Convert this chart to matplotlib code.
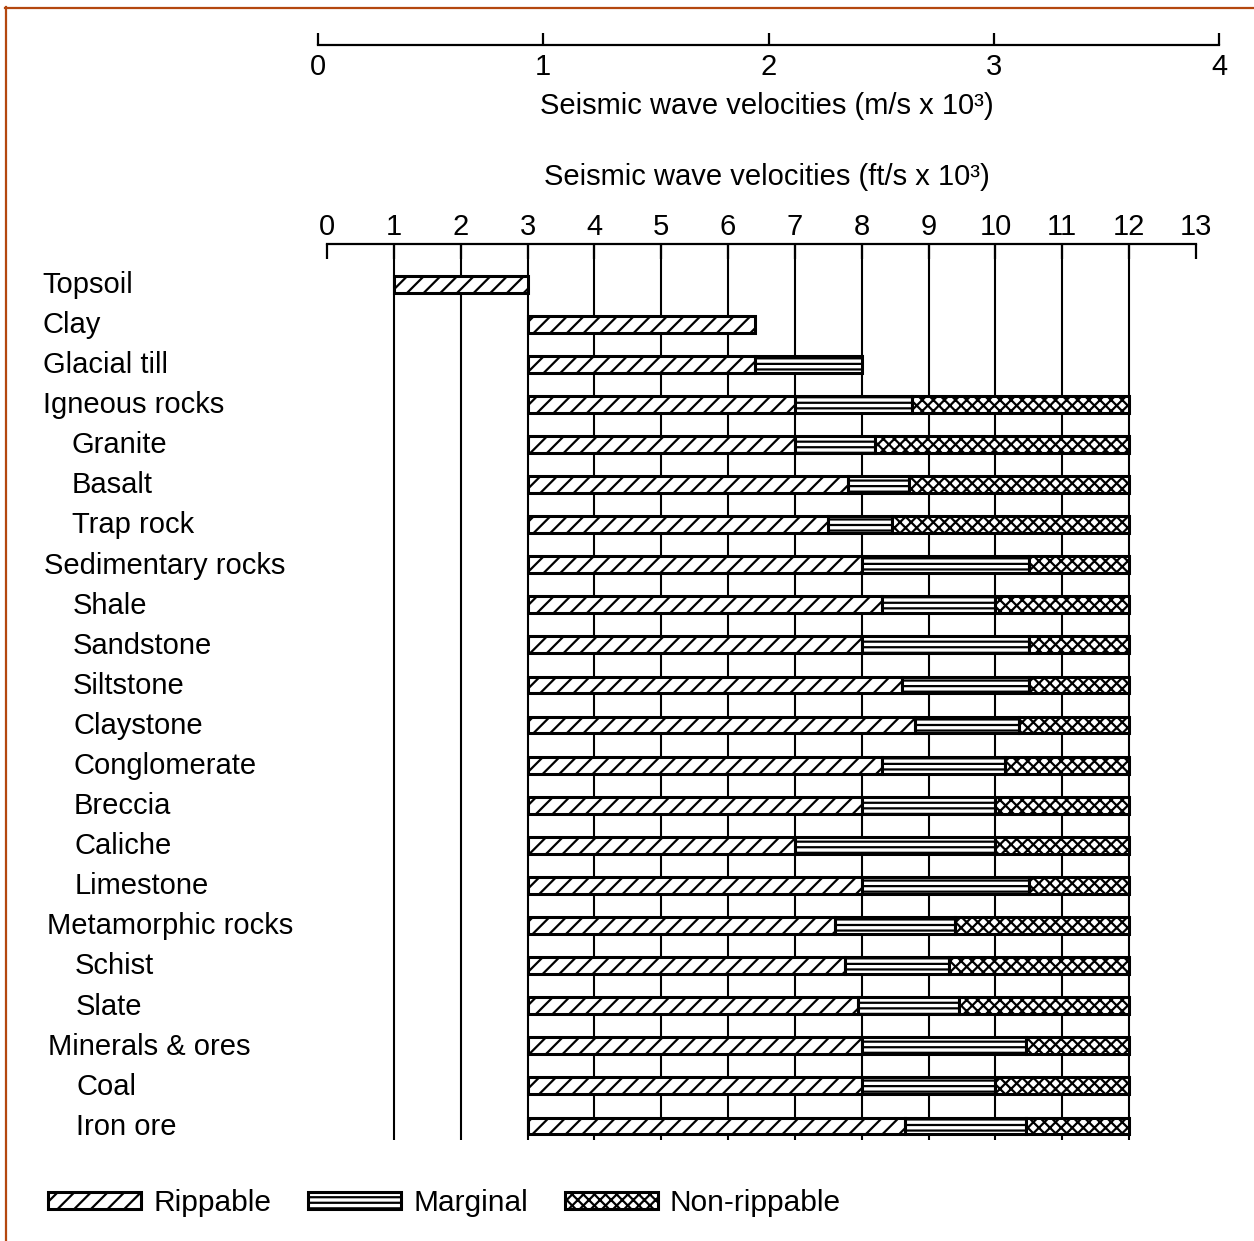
import numpy as np
import matplotlib
matplotlib.use("Agg")
import matplotlib.pyplot as plt
import matplotlib.transforms as mtransforms
from matplotlib.patches import Patch
from matplotlib.lines import Line2D

# ---------------- data ----------------
categories = ["Topsoil", "Clay", "Glacial till", "Igneous rocks", "Granite", "Basalt",
              "Trap rock", "Sedimentary rocks", "Shale", "Sandstone", "Siltstone",
              "Claystone", "Conglomerate", "Breccia", "Caliche", "Limestone",
              "Metamorphic rocks", "Schist", "Slate", "Minerals & ores", "Coal", "Iron ore"]
indent_level = [0, 0, 0, 0, 1, 1, 1, 0, 1, 1, 1, 1, 1, 1, 1, 1, 0, 1, 1, 0, 1, 1]

# velocities in ft/s x 1000
rippable_start = [1, 3, 3, 3, 3, 3, 3, 3, 3, 3, 3, 3, 3, 3, 3, 3, 3, 3, 3, 3, 3, 3]
rippable_end = [3, 6.4, 6.4, 7, 7, 7.8, 7.5, 8, 8.3, 8, 8.6, 8.8, 8.3, 8, 7, 8,
                7.6, 7.75, 7.95, 8, 8, 8.65]
marginal_end = [None, None, 8, 8.75, 8.2, 8.7, 8.45, 10.5, 10, 10.5, 10.5, 10.35,
                10.15, 10, 10, 10.5, 9.4, 9.3, 9.45, 10.45, 10, 10.45]
nonrippable_end = [None, None, None, 12, 12, 12, 12, 12, 12, 12, 12, 12, 12, 12,
                   12, 12, 12, 12, 12, 12, 12, 12]

ft_ticks = [0, 1, 2, 3, 4, 5, 6, 7, 8, 9, 10, 11, 12, 13]
ms_ticks = [0, 1, 2, 3, 4]
legend_labels = ["Rippable", "Marginal", "Non-rippable"]
hatches = ["//", "---", "xxx"]

# ---------------- style ----------------
plt.rcParams["font.family"] = ["Liberation Sans", "DejaVu Sans"]
plt.rcParams["hatch.linewidth"] = 1.6
plt.rcParams["hatch.color"] = "black"
FS = 21
W, H = 1254, 1241

fig = plt.figure(figsize=(W / 100, H / 100), dpi=100)
fig.patch.set_facecolor("white")

# main axes: x = ft/s x1000, y = row index
ax = fig.add_axes([327 / W, 1 - 1142 / H, (1196 - 327) / W, (1142 - 244) / H])
ax.set_xlim(0, 13)
ax.set_ylim(21.4, -1)
for s in ["left", "right", "bottom"]:
    ax.spines[s].set_visible(False)
ax.spines["top"].set_linewidth(1.6)
ax.xaxis.tick_top()
ax.set_xticks(ft_ticks)
ax.set_xticklabels([str(t) for t in ft_ticks])
ax.tick_params(axis="x", direction="in", length=11, width=1.6, pad=2, labelsize=FS)
ax.set_yticks([])
ax.patch.set_alpha(0)

# vertical grid lines
ax.vlines(ft_ticks[1:13], -1, 21.35, color="black", lw=1.5, zorder=1)

rows = np.arange(len(categories))
bar_h = 0.42
common = dict(height=bar_h, facecolor="white", edgecolor="black", linewidth=2.2, zorder=3)
for i in rows:
    ax.barh(i, rippable_end[i] - rippable_start[i], left=rippable_start[i],
            hatch=hatches[0], **common)
    if marginal_end[i] is not None:
        ax.barh(i, marginal_end[i] - rippable_end[i], left=rippable_end[i],
                hatch=hatches[1], **common)
    if nonrippable_end[i] is not None:
        ax.barh(i, nonrippable_end[i] - marginal_end[i], left=marginal_end[i],
                hatch=hatches[2], **common)

# category labels (slight rightward drift down the column, as in the scan)
trans = mtransforms.blended_transform_factory(fig.transFigure, ax.transData)
for i, (name, lev) in enumerate(zip(categories, indent_level)):
    ax.text((42 + 28 * lev + 0.3 * i) / W, i + 0.22, name, transform=trans, ha="left",
            va="baseline", fontsize=FS, clip_on=False)

# m/s axis
ax2 = fig.add_axes([318 / W, 1 - 45 / H, (1219 - 318) / W, 0.0001])
ax2.set_xlim(0, 4)
for s in ["left", "right", "top"]:
    ax2.spines[s].set_visible(False)
ax2.spines["bottom"].set_linewidth(1.6)
ax2.set_yticks([])
ax2.set_xticks(ms_ticks)
ax2.set_xticklabels([str(t) for t in ms_ticks])
ax2.tick_params(axis="x", direction="in", length=9, width=1.6, pad=6, labelsize=FS)
ax2.patch.set_alpha(0)

fig.text(767 / W, 1 - 106 / H, "Seismic wave velocities (m/s x 10³)", ha="center",
         va="center", fontsize=FS)
fig.text(767 / W, 1 - 177 / H, "Seismic wave velocities (ft/s x 10³)", ha="center",
         va="center", fontsize=FS)

# legend
handles = [Patch(facecolor="white", edgecolor="black", linewidth=2.2, hatch=h) for h in hatches]
LFS = 21.5
em = LFS * 100 / 72
fig.legend(handles, legend_labels, loc="center left",
           bbox_to_anchor=(48 / W, 1 - 1203 / H), bbox_transform=fig.transFigure,
           ncol=3, frameon=False, fontsize=LFS, handlelength=93 / em,
           handleheight=16 / em, handletextpad=12 / em, columnspacing=37 / em,
           borderpad=0, borderaxespad=0)

# page border
fig.add_artist(Line2D([5.5 / W, 5.5 / W], [0, 1 - 7 / H], transform=fig.transFigure,
                      color="#B4470F", lw=1.6))
fig.add_artist(Line2D([5 / W, 1], [1 - 7.5 / H, 1 - 7.5 / H], transform=fig.transFigure,
                      color="#B4470F", lw=1.6))

fig.savefig("out.png", dpi=100)
